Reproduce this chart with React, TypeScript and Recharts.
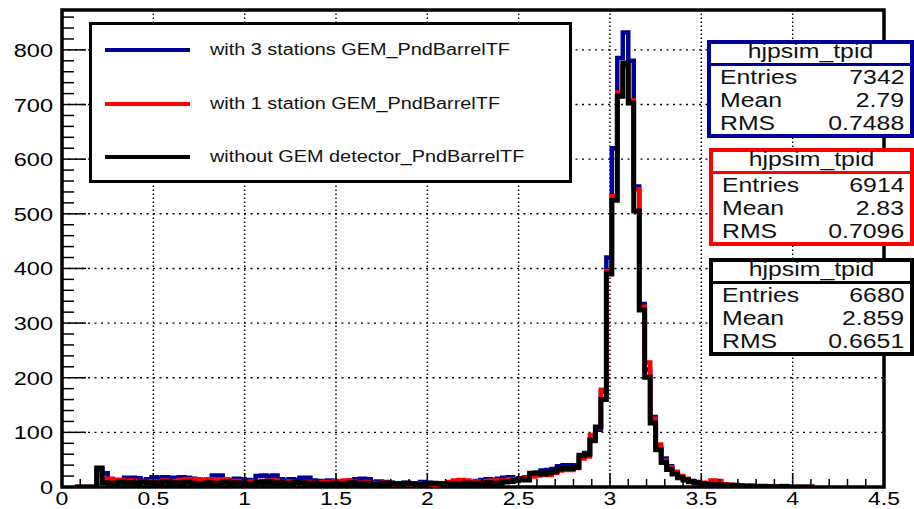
import React from 'react';
import { LineChart, Line, XAxis, YAxis, ReferenceLine, ReferenceArea, Legend } from 'recharts';

const FONT = '"Liberation Sans", Arial, Helvetica, sans-serif';
const STRETCH = 1.24;

// histogram binning (bin left edges)
const BIN_START = 0.07;
const BIN_WIDTH = 0.03;
const X_MAX = 4.5;
const Y_MAX = 873;

// counts per bin
const threeStationCounts = [
  0, 0, 0, 0, 32, 25, 12, 11, 13, 17, 17, 16, 12, 14, 18, 17, 18, 17, 17, 18,
  17, 15, 13, 11, 12, 21, 21, 13, 12, 15, 14, 13, 12, 20, 21, 19, 21, 14, 12, 14,
  13, 17, 17, 12, 11, 10, 12, 9, 10, 8, 12, 14, 15, 14, 8, 10, 9, 8, 7, 6,
  8, 5, 6, 9, 8, 5, 7, 6, 5, 7, 8, 6, 9, 11, 13, 14, 12, 15, 17, 18,
  14, 16, 18, 22, 24, 30, 31, 33, 38, 40, 40, 39, 55, 62, 84, 105, 175, 420, 620, 785,
  832, 780, 550, 335, 215, 128, 72, 52, 38, 26, 20, 14, 11, 9, 7, 4, 6, 5, 4, 3,
  2, 1, 2, 1, 1, 2, 0, 1, 0, 0, 0, 0, 0, 0, 0,
];
const oneStationCounts = [
  0, 0, 0, 0, 22, 14, 15, 13, 13, 10, 12, 9, 11, 10, 8, 10, 12, 9, 11, 13,
  14, 12, 14, 13, 14, 12, 13, 14, 9, 11, 6, 8, 10, 8, 11, 7, 12, 9, 6, 10,
  8, 7, 9, 6, 8, 9, 7, 10, 11, 12, 11, 6, 8, 9, 7, 6, 8, 6, 5, 7,
  6, 4, 7, 5, 6, 4, 5, 7, 9, 12, 13, 12, 8, 10, 9, 11, 12, 10, 12, 14,
  11, 15, 17, 19, 21, 23, 22, 26, 30, 32, 31, 35, 52, 56, 95, 108, 178, 395, 532, 722,
  770, 708, 545, 330, 228, 125, 78, 48, 36, 28, 19, 15, 9, 8, 8, 6, 12, 11, 5, 4,
  2, 3, 1, 2, 0, 1, 1, 0, 1, 2, 0, 0, 0, 0, 0,
];
const noGemCounts = [
  0, 0, 0, 0, 35, 8, 7, 6, 9, 7, 8, 6, 9, 7, 8, 6, 9, 5, 8, 6,
  9, 7, 6, 4, 8, 6, 7, 10, 5, 8, 7, 6, 4, 9, 7, 10, 6, 8, 7, 5,
  9, 8, 6, 7, 5, 6, 4, 7, 5, 6, 8, 4, 6, 7, 5, 4, 6, 7, 6, 5,
  7, 6, 4, 5, 6, 7, 6, 5, 6, 5, 6, 7, 6, 7, 5, 8, 6, 7, 9, 10,
  12, 14, 13, 25, 26, 24, 26, 28, 33, 34, 34, 36, 58, 60, 86, 110, 160, 390, 525, 715,
  776, 703, 505, 324, 201, 117, 68, 45, 32, 24, 17, 13, 10, 8, 6, 5, 4, 4, 3, 2,
  3, 2, 1, 2, 1, 0, 1, 0, 0, 1, 0, 0, 0, 0, 0,
];

const seriesKeys = ['s3', 's1', 's0'];
const seriesNames = [
  'with 3 stations GEM_PndBarrelTF',
  'with 1 station GEM_PndBarrelTF',
  'without GEM detector_PndBarrelTF',
];
const seriesColors = ['#000099', '#ff0000', '#000000'];

const xMajorTicks = [0, 0.5, 1, 1.5, 2, 2.5, 3, 3.5, 4, 4.5];
const xTickLabels = ['0', '0.5', '1', '1.5', '2', '2.5', '3', '3.5', '4', '4.5'];
const X_MINOR_STEP = 0.1;
const yMajorTicks = [0, 100, 200, 300, 400, 500, 600, 700, 800];
const yTickLabels = ['0', '100', '200', '300', '400', '500', '600', '700', '800'];
const Y_MINOR_STEP = 20;

const statTitle = 'hjpsim_tpid';
const statNames = ['Entries', 'Mean', 'RMS'];
const threeStationStats = ['7342', '2.79', '0.7488'];
const oneStationStats = ['6914', '2.83', '0.7096'];
const noGemStats = ['6680', '2.859', '0.6651'];

const histData = threeStationCounts.map((_, i) => ({
  x: +(BIN_START + i * BIN_WIDTH).toFixed(3),
  s3: threeStationCounts[i],
  s1: oneStationCounts[i],
  s0: noGemCounts[i],
}));
const lastIdx = threeStationCounts.length - 1;
histData.push({
  x: +(BIN_START + threeStationCounts.length * BIN_WIDTH).toFixed(3),
  s3: threeStationCounts[lastIdx],
  s1: oneStationCounts[lastIdx],
  s0: noGemCounts[lastIdx],
});

const xAllTicks = Array.from({ length: Math.round(X_MAX / X_MINOR_STEP) + 1 }, (_, i) => +(i * X_MINOR_STEP).toFixed(2));
const yAllTicks = Array.from({ length: Math.floor(Y_MAX / Y_MINOR_STEP) + 1 }, (_, i) => i * Y_MINOR_STEP);

const XTick = (props: any) => {
  const { x, y, payload } = props;
  const idx = xMajorTicks.findIndex((t) => Math.abs(t - payload.value) < 1e-6);
  const major = idx >= 0;
  const inside = payload.value > 0 && payload.value < X_MAX;
  return (
    <g>
      {inside && <line x1={x} x2={x} y1={y} y2={y - (major ? 14 : 8)} stroke="#000" strokeWidth={1.5} />}
      {major && (
        <text
          transform={`translate(${x},${y + 18}) scale(${STRETCH},1)`}
          textAnchor="middle"
          fontFamily={FONT}
          fontSize={18.5}
          fill="#000"
        >
          {xTickLabels[idx]}
        </text>
      )}
    </g>
  );
};

const YTick = (props: any) => {
  const { x, y, payload } = props;
  const idx = yMajorTicks.indexOf(payload.value);
  const major = idx >= 0;
  return (
    <g>
      {payload.value > 0 && <line x1={x} x2={x + (major ? 24 : 12)} y1={y} y2={y} stroke="#000" strokeWidth={1.5} />}
      {major && (
        <text
          transform={`translate(${x - 9},${y + 7}) scale(${STRETCH},1)`}
          textAnchor="end"
          fontFamily={FONT}
          fontSize={19}
          fill="#000"
        >
          {yTickLabels[idx]}
        </text>
      )}
    </g>
  );
};

const LegendBox = (props: any) => {
  const items = [...(props.payload || [])].sort(
    (a: any, b: any) => seriesNames.indexOf(a.value) - seriesNames.indexOf(b.value)
  );
  return (
    <div
      style={{
        position: 'absolute',
        inset: 0,
        border: '3px solid #000',
        boxSizing: 'border-box',
        background: '#fff',
        fontFamily: FONT,
      }}
    >
      {items.map((item: any, i: number) => (
        <div key={item.value} style={{ position: 'absolute', left: 0, top: 25 + i * 53.5, width: '100%' }}>
          <div style={{ position: 'absolute', left: 13, top: -2, width: 85, height: 4, background: item.color }} />
          <span
            style={{
              position: 'absolute',
              left: 118,
              top: -12,
              lineHeight: '24px',
              fontSize: 16,
              color: '#111',
              whiteSpace: 'nowrap',
              display: 'inline-block',
              transform: `scaleX(${STRETCH})`,
              transformOrigin: 'left center',
            }}
          >
            {item.value}
          </span>
        </div>
      ))}
    </div>
  );
};

const statBoxes = [
  { stats: threeStationStats, color: seriesColors[0], left: 707, top: 40 },
  { stats: oneStationStats, color: seriesColors[1], left: 709, top: 148 },
  { stats: noGemStats, color: seriesColors[2], left: 709, top: 258 },
];

const textStyle = (origin: string): React.CSSProperties => ({
  position: 'absolute',
  lineHeight: '24px',
  height: 24,
  fontSize: 20,
  color: '#111',
  whiteSpace: 'nowrap',
  display: 'inline-block',
  transform: `scaleX(${STRETCH})`,
  transformOrigin: origin,
});

const StatBox = ({ stats, color, left, top }: { stats: string[]; color: string; left: number; top: number }) => (
  <div
    style={{
      position: 'absolute',
      left,
      top,
      width: 914 - left,
      height: 98,
      border: `4px solid ${color}`,
      boxSizing: 'border-box',
      background: '#fff',
      fontFamily: FONT,
    }}
  >
    <div style={{ ...textStyle('center center'), left: 0, right: 0, top: -5, textAlign: 'center' }}>{statTitle}</div>
    <div style={{ position: 'absolute', left: 0, right: 0, top: 19, height: 3, background: color }} />
    {statNames.map((name, i) => (
      <React.Fragment key={name}>
        <div style={{ ...textStyle('left center'), left: 9, top: 21 + i * 23 }}>{name}</div>
        <div style={{ ...textStyle('right center'), right: 6, top: 21 + i * 23 }}>{stats[i]}</div>
      </React.Fragment>
    ))}
  </div>
);

export default function App() {
  return (
    <div style={{ position: 'absolute', left: 0, top: 0, width: 914, height: 509, background: '#fff', overflow: 'hidden' }}>
      <LineChart width={914} height={509} data={histData} margin={{ top: 10, right: 30, bottom: 0, left: 0 }}>
        <XAxis
          type="number"
          dataKey="x"
          domain={[0, X_MAX]}
          ticks={xAllTicks}
          interval={0}
          tick={XTick}
          tickLine={false}
          axisLine={false}
          tickSize={0}
          tickMargin={0}
          height={22}
          allowDataOverflow
        />
        <YAxis
          type="number"
          domain={[0, Y_MAX]}
          ticks={yAllTicks}
          interval={0}
          tick={YTick}
          tickLine={false}
          axisLine={false}
          tickSize={0}
          tickMargin={0}
          width={62}
          allowDataOverflow
        />
        {yMajorTicks.slice(1).map((v) => (
          <ReferenceLine key={`gy${v}`} y={v} stroke="#000" strokeWidth={1.4} strokeDasharray="2 4.5" />
        ))}
        {xMajorTicks.slice(1, -1).map((v) => (
          <ReferenceLine key={`gx${v}`} x={v} stroke="#000" strokeWidth={1.4} strokeDasharray="1.5 2.5" />
        ))}
        <ReferenceArea x1={0} x2={X_MAX} y1={0} y2={Y_MAX} fill="none" stroke="#000" strokeWidth={3.5} ifOverflow="visible" />
        {seriesKeys.map((key, i) => (
          <Line
            key={key}
            dataKey={key}
            name={seriesNames[i]}
            type="stepAfter"
            stroke={seriesColors[i]}
            strokeWidth={i === 2 ? 5 : 4.5}
            dot={false}
            activeDot={false}
            isAnimationActive={false}
          />
        ))}
        <Legend
          layout="horizontal"
          verticalAlign="middle"
          align="center"
          content={LegendBox}
          wrapperStyle={{ left: 89, top: 22, width: 483, height: 161, bottom: 'auto', right: 'auto' }}
        />
      </LineChart>
      {statBoxes.map((b) => (
        <StatBox key={b.top} {...b} />
      ))}
    </div>
  );
}
